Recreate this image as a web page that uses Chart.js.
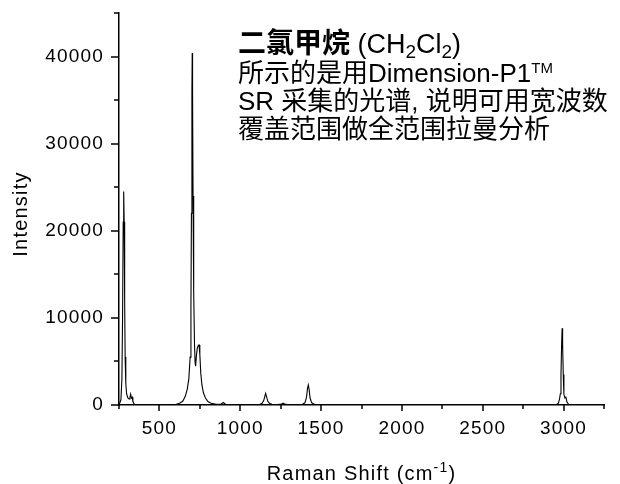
<!DOCTYPE html>
<html>
<head>
<meta charset="utf-8">
<script src="https://cdn.jsdelivr.net/npm/chart.js@4"></script>
<style>
  html, body { margin: 0; padding: 0; background: #fff; }
  canvas { display: block; }
</style>
</head>
<body>
<canvas id="ramanCanvas" width="620" height="484"></canvas>
<script>
// Raman shift (cm-1) and intensity
var shiftCm = [250, 262, 268, 272, 276, 279, 282, 285, 288, 292, 297, 305, 312, 318, 322, 327, 331, 336, 345, 360,
    450, 550, 600, 625, 645, 660, 672, 682, 690, 695, 698, 701, 703, 705, 708, 712, 717, 721, 724, 728, 734, 740, 745,
    750, 756, 763, 772, 785, 800, 820, 850, 880, 895, 910, 950,
    1050, 1120, 1135, 1145, 1152, 1157, 1162, 1170, 1180, 1195, 1230, 1255, 1265, 1275, 1300,
    1380, 1400, 1410, 1416, 1421, 1426, 1432, 1442, 1460, 1550,
    2000, 2500, 2900, 2955, 2968, 2975, 2980, 2984, 2988, 2991, 2994, 2998, 3002, 3008, 3014, 3020, 3030, 3100, 3250];
var intensity = [0, 600, 3000, 10000, 21000, 24500, 21000, 12000, 5500, 2500, 1300, 800, 700, 900, 1250, 800, 900, 400, 50, 0,
    0, 0, 50, 200, 450, 1000, 1800, 3000, 5500, 11000, 22000, 36000, 40400, 36000, 24000, 13000, 7000, 4800, 4450, 5500, 6500, 6850, 6900,
    5800, 3600, 2300, 1400, 800, 400, 200, 80, 80, 280, 60, 0,
    0, 60, 200, 500, 1000, 1340, 1000, 450, 200, 80, 50, 120, 220, 100, 20,
    40, 250, 900, 1900, 2300, 1800, 800, 250, 60, 0,
    0, 0, 0, 30, 200, 700, 1300, 3500, 7000, 8800, 7000, 3500, 1200, 800, 900, 400, 80, 0, 0];

var xTickLabels = [500, 1000, 1500, 2000, 2500, 3000];
var yTickLabels = [0, 10000, 20000, 30000, 40000];

var titleCn = '二氯甲烷';
var noteLine1 = '所示的是用Dimension-P1';
var noteLine2a = 'SR 采集的光谱';
var noteLine2b = '说明可用宽波数';
var noteLine3 = '覆盖范围做全范围拉曼分析';

var LATIN = "'Liberation Sans', Arial, sans-serif";
var MIXED = "'Liberation Sans', 'Noto Sans CJK SC', sans-serif";
var AXIS_SPACING = '1.2px';

// draws a list of [text, font, dy] runs one after another
function drawRuns(ctx, x, y, runs) {
    runs.forEach(function (r) {
        ctx.font = r[1];
        ctx.fillText(r[0], x, y + (r[2] || 0));
        x += ctx.measureText(r[0]).width;
    });
    return x;
}
function runsWidth(ctx, runs) {
    var w = 0;
    runs.forEach(function (r) {
        ctx.font = r[1];
        w += ctx.measureText(r[0]).width;
    });
    return w;
}

var spacingPlugin = {
    id: 'spacing',
    beforeLayout: function (chart) { chart.ctx.letterSpacing = AXIS_SPACING; },
    beforeDraw: function (chart) { chart.ctx.letterSpacing = AXIS_SPACING; }
};

var decorPlugin = {
    id: 'decor',
    afterDraw: function (chart) {
        var ctx = chart.ctx;
        var area = chart.chartArea;
        var xs = chart.scales.x, ys = chart.scales.y;
        ctx.save();
        // tick marks, major ones longer
        ctx.strokeStyle = '#000';
        ctx.lineWidth = 1.5;
        ctx.beginPath();
        xs.ticks.forEach(function (t) {
            var px = Math.round(xs.getPixelForValue(t.value));
            var len = xTickLabels.indexOf(t.value) >= 0 ? 6 : 4;
            ctx.moveTo(px, area.bottom);
            ctx.lineTo(px, area.bottom + len);
        });
        ys.ticks.forEach(function (t) {
            var py = Math.round(ys.getPixelForValue(t.value));
            var len = yTickLabels.indexOf(t.value) >= 0 ? 8 : 5;
            ctx.moveTo(area.left, py);
            ctx.lineTo(area.left - len, py);
        });
        ctx.stroke();

        ctx.fillStyle = '#000';
        ctx.textBaseline = 'alphabetic';
        ctx.textAlign = 'left';

        // axis titles
        ctx.letterSpacing = AXIS_SPACING;
        var xRuns = [['Raman Shift (cm', '20px ' + LATIN], ['-1', '14px ' + LATIN, -8], [')', '20px ' + LATIN]];
        var xw = runsWidth(ctx, xRuns);
        drawRuns(ctx, (area.left + area.right) / 2 - xw / 2, 480, xRuns);

        ctx.save();
        ctx.translate(27, 214);
        ctx.rotate(-Math.PI / 2);
        ctx.font = '20px ' + LATIN;
        ctx.textAlign = 'center';
        ctx.fillText('Intensity', 0, 0);
        ctx.restore();

        // annotation block
        ctx.letterSpacing = '0px';
        var x0 = 238;
        drawRuns(ctx, x0, 53, [
            [titleCn, "bold 28px 'Noto Sans CJK SC', sans-serif"],
            [' (CH', '27px ' + LATIN],
            ['2', '19px ' + LATIN, 5],
            ['Cl', '27px ' + LATIN],
            ['2', '19px ' + LATIN, 5],
            [')', '27px ' + LATIN]
        ]);
        drawRuns(ctx, x0, 82, [
            [noteLine1, '26px ' + MIXED],
            ['TM', '15px ' + LATIN, -9]
        ]);
        drawRuns(ctx, x0, 110, [
            [noteLine2a, '26px ' + MIXED],
            [', ', '26px ' + LATIN],
            [noteLine2b, '26px ' + MIXED]
        ]);
        drawRuns(ctx, x0, 138, [[noteLine3, '26px ' + MIXED]]);
        ctx.restore();
    }
};

var points = shiftCm.map(function (x, i) { return { x: x, y: intensity[i] }; });

var ramanChart = new Chart(document.getElementById('ramanCanvas'), {
    type: 'line',
    data: {
        datasets: [{
            label: 'CH2Cl2',
            data: points,
            borderColor: '#000',
            borderWidth: 1.1,
            pointRadius: 0,
            fill: false,
            tension: 0
        }]
    },
    options: {
        responsive: false,
        animation: false,
        devicePixelRatio: 1,
        layout: { padding: { left: 0, top: 13, right: 16, bottom: 0 } },
        plugins: {
            legend: { display: false },
            tooltip: { enabled: false }
        },
        scales: {
            x: {
                type: 'linear',
                min: 250,
                max: 3250,
                afterFit: function (scale) {
                    scale.height = 79;
                    scale.paddingLeft = 0;
                    scale.paddingRight = 0;
                },
                border: { display: true, color: '#000', width: 1.5 },
                grid: { display: false, drawTicks: false },
                ticks: {
                    stepSize: 250,
                    padding: 12,
                    maxRotation: 0,
                    autoSkip: false,
                    color: '#000',
                    font: { family: LATIN, size: 19 },
                    callback: function (v) { return xTickLabels.indexOf(v) >= 0 ? String(v) : ''; }
                }
            },
            y: {
                min: 0,
                max: 45000,
                afterFit: function (scale) {
                    scale.width = 119;
                    scale.paddingTop = 0;
                    scale.paddingBottom = 0;
                },
                border: { display: true, color: '#000', width: 1.5 },
                grid: { display: false, drawTicks: false },
                ticks: {
                    stepSize: 5000,
                    padding: 15,
                    autoSkip: false,
                    color: '#000',
                    font: { family: LATIN, size: 19 },
                    callback: function (v) { return yTickLabels.indexOf(v) >= 0 ? String(v) : ''; }
                }
            }
        }
    },
    plugins: [spacingPlugin, decorPlugin]
});
</script>
</body>
</html>
